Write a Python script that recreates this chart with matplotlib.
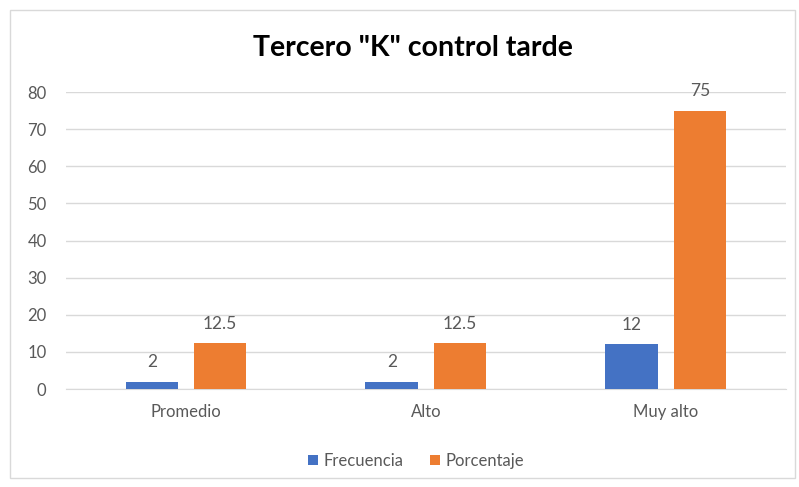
import matplotlib
matplotlib.use("Agg")
import matplotlib.pyplot as plt
import numpy as np
from matplotlib.patches import Rectangle

categories = ["Promedio", "Alto", "Muy alto"]
frecuencia = [2, 2, 12]
porcentaje = [12.5, 12.5, 75]
yticks = [0, 10, 20, 30, 40, 50, 60, 70, 80]

plt.rcParams['font.family'] = ['Lato', 'DejaVu Sans']
text_col = "#595959"
blue = "#4472C4"
orange = "#ED7D31"

fig = plt.figure(figsize=(7.99, 4.87), dpi=100)
ax = fig.add_axes([0.0826, 0.2012, 0.901, 0.6098])

x = np.arange(len(categories))
w = 0.22
off = 0.142
b1 = ax.bar(x - off, frecuencia, w, color=blue, label="Frecuencia", zorder=3)
b2 = ax.bar(x + off, porcentaje, w, color=orange, label="Porcentaje", zorder=3)

for bars, vals in ((b1, frecuencia), (b2, porcentaje)):
    for r, v in zip(bars, vals):
        ax.annotate(f"{v:g}", (r.get_x() + r.get_width() / 2, r.get_height()),
                    xytext=(0, 8), textcoords="offset points", ha="center",
                    va="bottom", fontsize=12.5, color=text_col)

ax.set_xlim(-0.5, 2.5)
ax.set_ylim(0, 80)
ax.set_yticks(yticks)
ax.set_xticks(x)
ax.set_xticklabels(categories)
ax.tick_params(axis="both", length=0, colors=text_col, labelsize=12)
ax.tick_params(axis="x", pad=11)
ax.tick_params(axis="y", pad=14)
ax.yaxis.grid(True, color="#D9D9D9", linewidth=1, zorder=0)
for s in ax.spines.values():
    s.set_visible(False)
ax.spines["bottom"].set_visible(True)
ax.spines["bottom"].set_color("#D9D9D9")

fig.text(0.517, 0.902, 'Tercero "K" control tarde', ha="center", va="center",
         fontsize=20.5, fontweight="bold", color="#000000")

leg = ax.legend(loc="center", bbox_to_anchor=(416 / 799, 1 - 461 / 487),
                bbox_transform=fig.transFigure, ncol=2, frameon=False,
                fontsize=12, handlelength=0.6, handleheight=0.6,
                handletextpad=0.3, columnspacing=1.6)
for t in leg.get_texts():
    t.set_color(text_col)

fig.patches.append(Rectangle((10 / 799, 1 - 478 / 487), 785 / 799, 468 / 487,
                             transform=fig.transFigure, fill=False,
                             edgecolor="#D9D9D9", linewidth=1))

fig.savefig("out.png", dpi=100)
